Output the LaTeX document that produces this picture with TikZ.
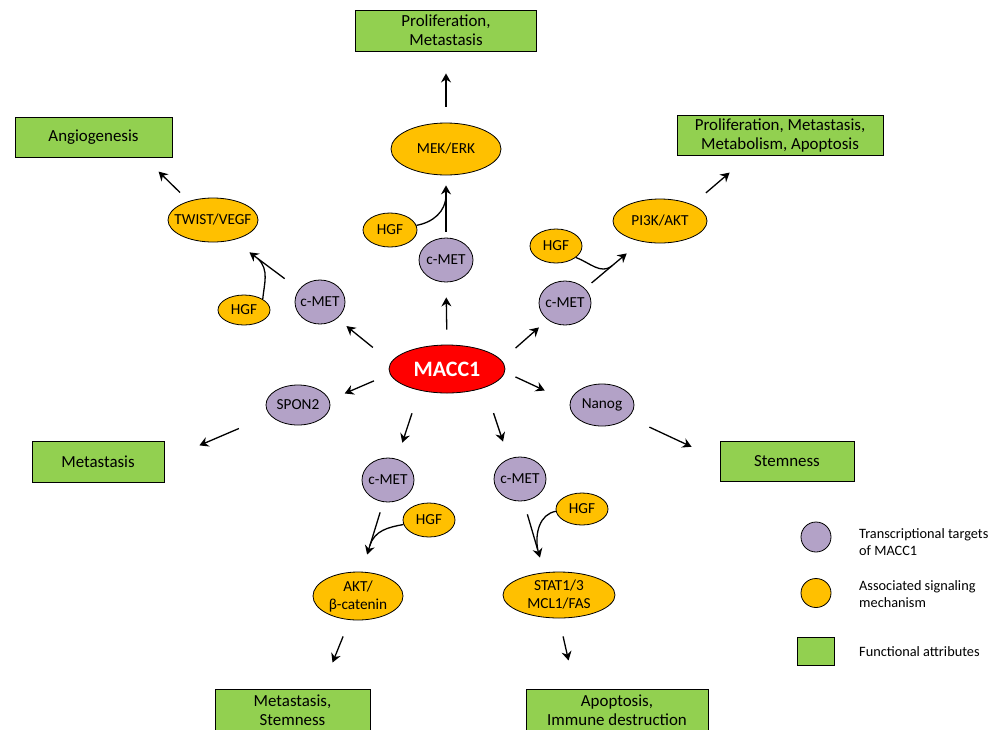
\documentclass[tikz,border=0pt]{standalone}
\usepackage{fontspec}
\setmainfont{Carlito}
\usetikzlibrary{arrows.meta,shapes.geometric}
\definecolor{macpurple}{HTML}{B3A2C7}
\definecolor{macorange}{HTML}{FFC000}
\definecolor{macgreen}{HTML}{92D050}
\definecolor{macred}{HTML}{FF0000}
\newcommand{\attrfont}{\fontsize{16.9}{19}\selectfont}
\newcommand{\ovalfont}{\fontsize{15.3}{18}\selectfont}
\newcommand{\keyfont}{\fontsize{14.3}{17}\selectfont}
\tikzset{
  tgt/.style={ellipse,draw=black,fill=macpurple,line width=0.8pt,inner sep=0pt},   % MACC1 target
  sig/.style={ellipse,draw=black,fill=macorange,line width=0.8pt,inner sep=0pt},   % signaling
  attr/.style={rectangle,draw=black,fill=macgreen,line width=0.9pt,inner sep=0pt,font=\attrfont,align=center},
  lbl/.style={font=\ovalfont,align=center,inner sep=0pt},
  key/.style={font=\keyfont,align=left,anchor=west,inner sep=0pt},
  arr/.style={-{Stealth[length=9pt,width=10pt,inset=3pt]},line width=1.3pt},
  link/.style={line width=1.3pt},
}

\begin{document}
\begin{tikzpicture}[x=1pt,y=-1pt]
  \useasboundingbox (0,0) rectangle (998,729);
  % functional attributes
  \node[attr,minimum width=181pt,minimum height=41pt] (bTop) at (446,30.5) {Proliferation,\\Metastasis};
  \node[attr,minimum width=157pt,minimum height=40pt] (bAng) at (93.5,137) {Angiogenesis};
  \node[attr,minimum width=206pt,minimum height=40pt] (bTR) at (780,135) {Proliferation, Metastasis,\\Metabolism, Apoptosis};
  \node[attr,minimum width=132pt,minimum height=41pt] (bMet) at (98,461.5) {Metastasis};
  \node[attr,minimum width=134pt,minimum height=40pt] (bStem) at (787,461) {Stemness};
  \node[attr,minimum width=155pt,minimum height=42pt] (bBL) at (292.5,710) {Metastasis,\\Stemness};
  \node[attr,minimum width=182pt,minimum height=42pt] (bBR) at (617,710) {Apoptosis,\\Immune destruction};

  % MACC1 and its targets
  \node[ellipse,draw=black,fill=macred,line width=0.8pt,inner sep=0pt,minimum width=116pt,minimum height=48pt,
        label={[lbl,font=\fontsize{22}{24}\selectfont\bfseries,text=white]center:MACC1}] (macc) at (447,369) {};
  \node[tgt,minimum width=54pt,minimum height=44pt,label={[lbl]center:c-MET}] (cmetT) at (446,260) {};
  \node[tgt,minimum width=50pt,minimum height=44pt,label={[lbl]center:c-MET}] (cmetL) at (320,302) {};
  \node[tgt,minimum width=52pt,minimum height=44pt,label={[lbl]center:c-MET}] (cmetR) at (565,303) {};
  \node[tgt,minimum width=64pt,minimum height=40pt,label={[lbl]center:SPON2}] (spon) at (298,405) {};
  \node[tgt,minimum width=64pt,minimum height=42pt,label={[lbl]center:Nanog}] (nanog) at (602,405) {};
  \node[tgt,minimum width=52pt,minimum height=44pt,label={[lbl]center:c-MET}] (cmetBL) at (388,480) {};
  \node[tgt,minimum width=52pt,minimum height=44pt,label={[lbl]center:c-MET}] (cmetBR) at (520,479) {};

  % signaling
  \node[sig,minimum width=110pt,minimum height=52pt,label={[lbl]center:MEK/ERK}] (mek) at (446,149) {};
  \node[sig,minimum width=90pt,minimum height=44pt,label={[lbl]center:TWIST/VEGF}] (twist) at (213,220) {};
  \node[sig,minimum width=94pt,minimum height=44pt,label={[lbl]center:PI3K/AKT}] (pi3k) at (660,221) {};
  \node[sig,minimum width=90pt,minimum height=48pt,label={[lbl]center:AKT/\\β-catenin}] (akt) at (358,596) {};
  \node[sig,minimum width=112pt,minimum height=46pt,label={[lbl]center:STAT1/3\\MCL1/FAS}] (stat) at (559,595) {};
  \node[sig,minimum width=52pt,minimum height=30pt,label={[lbl]center:HGF}] (hgfL) at (244,310) {};
  \node[sig,minimum width=54pt,minimum height=34pt,label={[lbl]center:HGF}] (hgfT) at (390,230) {};
  \node[sig,minimum width=52pt,minimum height=34pt,label={[lbl]center:HGF}] (hgfR) at (556,246) {};
  \node[sig,minimum width=52pt,minimum height=34pt,label={[lbl]center:HGF}] (hgfBL) at (429,520) {};
  \node[sig,minimum width=52pt,minimum height=32pt,label={[lbl]center:HGF}] (hgfBR) at (582,509) {};

  % arrows
  \draw[arr,shorten <=16pt,shorten >=22pt] (mek.90) -- (bTop.-90);
  \draw[arr,shorten <=15pt,shorten >=15pt] (macc.90) -- (cmetT.-90);
  \draw[arr,shorten <=6pt,shorten >=10pt] (cmetT.90) -- coordinate[pos=0.683] (jT) (mek.-90);
  \draw[arr,shorten <=23.3pt,shorten >=12pt] (macc.173.6) -- (cmetL.-44.5);
  \draw[arr,shorten <=17.9pt,shorten >=20.4pt] (cmetL.149.3) -- coordinate[pos=0.62] (jL) (twist.-45.1);
  \draw[arr,shorten <=12.2pt,shorten >=20.2pt] (twist.142.5) -- (bAng.-22.2);
  \draw[arr,shorten <=18.6pt,shorten >=11.5pt] (macc.9.2) -- (cmetR.-136.5);
  \draw[arr,shorten <=8.5pt,shorten >=18.5pt] (cmetR.36.8) -- coordinate[pos=0.484] (jR) (pi3k.-133);
  \draw[arr,shorten <=18pt,shorten >=26.4pt] (pi3k.27.8) -- (bTR.-146.1);
  \draw[arr,shorten <=17.3pt,shorten >=16.6pt] (macc.-175.9) -- (spon.9.9);
  \draw[arr,shorten <=33.8pt,shorten >=38pt] (spon.-160.6) -- (bMet.1.4);
  \draw[arr,shorten <=11.6pt,shorten >=27.75pt] (macc.-3.1) -- (nanog.175.9);
  \draw[arr,shorten <=23.1pt,shorten >=30.9pt] (nanog.-25.2) -- (bStem.179.1);
  \draw[arr,shorten <=24pt,shorten >=17.1pt] (macc.-142.3) -- (cmetBL.67.5);
  \draw[arr,shorten <=27pt,shorten >=18.1pt] (macc.-26.3) -- (cmetBR.119.1);
  \draw[arr,shorten <=10.8pt,shorten >=17.9pt] (cmetBL.-102.7) -- coordinate[pos=0.622] (jBL) (akt.81);
  \draw[arr,shorten <=13.7pt,shorten >=15.5pt] (cmetBR.-81.9) -- coordinate[pos=0.682] (jBR) (stat.123.5);
  \draw[arr,shorten <=17.7pt,shorten >=28.1pt] (akt.-109.4) -- (bBL.36);
  \draw[arr,shorten <=18.5pt,shorten >=28.8pt] (stat.-90.7) -- (bBR.153);

  % HGF inputs
  \draw[link] (hgfT.10) to[out=10,in=-90] (jT);
  \draw[link] (hgfL.30) to[out=85,in=-45] (jL);
  \draw[link] (hgfR.-30) to[out=-20,in=-140] (jR);
  \draw[link] (hgfBL.190) to[out=190,in=73] (jBL);
  \draw[link] (hgfBR.185) to[out=190,in=100] (jBR);

  % legend
  \node[tgt,minimum width=30pt,minimum height=30pt] (keyT) at (816,537) {};
  \node[sig,minimum width=30pt,minimum height=29pt] (keyS) at (816,593) {};
  \node[attr,minimum width=37pt,minimum height=28pt] (keyA) at (815.5,651) {};
  \node[key] (keyTtxt) at (859,542) {Transcriptional targets\\of MACC1};
  \node[key] (keyStxt) at (859,594) {Associated signaling\\mechanism};
  \node[key] (keyAtxt) at (859,652) {Functional attributes};
\end{tikzpicture}
\end{document}
